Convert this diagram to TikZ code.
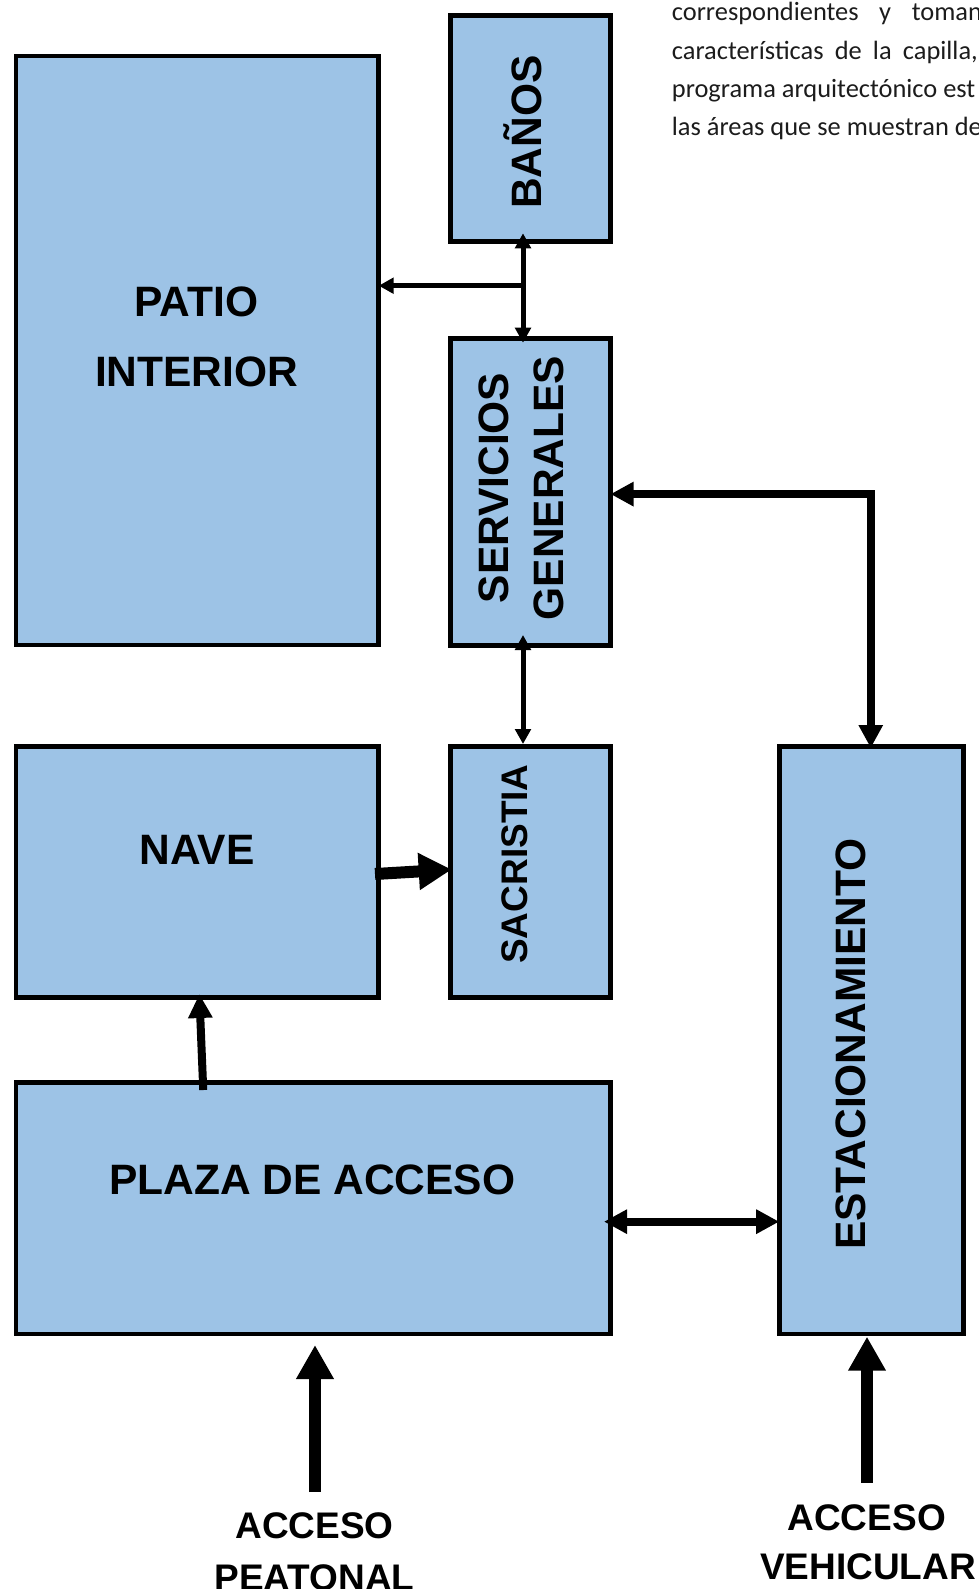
\documentclass[tikz,border=0pt]{standalone}
\usepackage{fontspec}
\setmainfont{Liberation Sans}
\newfontfamily\bodyfont{Carlito}
\usetikzlibrary{arrows.meta,fit,calc}
\definecolor{boxblue}{RGB}{157,195,230}
\definecolor{bodygray}{RGB}{28,28,28}
\begin{document}
\begin{tikzpicture}[x=0.5pt,y=-0.5pt,
  box/.style={draw=black,fill=boxblue,line width=2.4pt,inner sep=0pt,outer sep=0pt,rectangle},
  lbl/.style={font=\fontsize{21.25}{25}\selectfont\bfseries,inner sep=0pt,anchor=base},
  slbl/.style={font=\fontsize{18.5}{22}\selectfont\bfseries,inner sep=0pt,anchor=base},
  body/.style={font=\bodyfont\fontsize{13.2}{16}\selectfont,text=bodygray,inner sep=0pt,anchor=base west},
  thinarr/.style={line width=2.5pt,{Triangle[length=7.5pt,width=7.75pt]}-{Triangle[length=7.5pt,width=7.75pt]}},
  thinone/.style={line width=2.5pt,-{Triangle[length=7.5pt,width=7.75pt]}},
  medarr/.style={line width=3.9pt,{Triangle[length=11.5pt,width=11.5pt]}-{Triangle[length=11.5pt,width=11.5pt]}},
  medone/.style={line width=4pt,-{Triangle[length=12pt,width=11.5pt]}},
  bigarr/.style={line width=6pt,-{Triangle[length=16.5pt,width=17.5pt]}},
  entarr/.style={line width=6pt,-{Triangle[length=17pt,width=17.75pt]}}
]
\useasboundingbox (0,0) rectangle (979,1589);
\clip (0,0) rectangle (979,1589);

% boxes
\node[box, fit={(16,56) (378.7,645)}] (patio) {};
\node[box, fit={(450.5,15.6) (610.5,241.7)}] (banos) {};
\node[box, fit={(450.5,338.4) (610.5,645.8)}] (servicios) {};
\node[box, fit={(16,746.5) (378.7,997.5)}] (nave) {};
\node[box, fit={(450.5,746.5) (610.5,997.5)}] (sacristia) {};
\node[box, fit={(779.2,746.5) (963.3,1334)}] (estac) {};
\node[box, fit={(16,1082.5) (610.5,1334)}] (plaza) {};

% labels
\node[lbl] (tpatio) at (196.5,316) {PATIO};
\node[lbl] (tinterior) at (196.7,386) {INTERIOR};
\node[lbl,rotate=90] (tbanos) at (541,132) {BAÑOS};
\node[lbl,rotate=90] (tserv) at (508.3,488) {SERVICIOS};
\node[lbl,rotate=90] (tgen) at (563.3,488) {GENERALES};
\node[slbl,rotate=90] (tsac) at (527,864) {SACRISTIA};
\node[lbl] (tnave) at (197,864) {NAVE};
\node[lbl] (tplaza) at (312.3,1194) {PLAZA DE ACCESO};
\node[lbl,rotate=90] (testac) at (865,1044) {ESTACIONAMIENTO};
\node[slbl] (tacc1) at (314.5,1538) {ACCESO};
\node[slbl] (tpeat) at (314.5,1590) {PEATONAL};
\node[slbl] (tacc2) at (866.7,1530) {ACCESO};
\node[slbl] (tveh) at (868,1579) {VEHICULAR};

% body text (top right, cut by the right edge)
\node[body] (l1) at (671.5,21) {correspondientes\hspace{10.3pt}y\hspace{10.3pt}toman};
\node[body] (l2) at (671.5,59.3) {características\hspace{5.6pt}de\hspace{5.6pt}la\hspace{5.6pt}capilla,};
\node[body] (l3) at (671.5,97.6) {programa arquitectónico est};
\node[body] (l4) at (671.5,135.9) {las áreas que se muestran de};

% connectors
\draw[thinarr] ([xshift=-3.75pt,yshift=4.2pt]banos.south) -- ([xshift=-3.75pt,yshift=-2.15pt]servicios.north);
\coordinate (j1) at (523,285.7);
\draw[thinone] (j1) -- (j1 -| patio.east);
\draw[thinarr] ([xshift=-3.75pt,yshift=5.4pt]servicios.south) -- ([xshift=-3.75pt,yshift=1.25pt]sacristia.north);
\draw[medarr] ([yshift=-1pt]servicios.east) -| ([xshift=-0.25pt,yshift=-0.75pt]estac.north);
\draw[bigarr] ([xshift=-1.85pt,yshift=-1pt]nave.east) -- ([xshift=0.6pt,yshift=1.25pt]sacristia.west);
\draw[medone] ([xshift=-55pt,yshift=-3.75pt]plaza.north) -- ([xshift=1pt,yshift=1.75pt]nave.south);
\coordinate (p1) at ([xshift=-3.25pt,yshift=-6.7pt]plaza.east);
\draw[medarr] (p1) -- (p1 -| estac.west);
\coordinate (ap) at (315,1492);
\coordinate (apt) at (ap |- plaza.south);
\draw[entarr] (ap) -- ([yshift=-5.5pt]apt);
\coordinate (av) at (867,1482.7);
\coordinate (avt) at (av |- estac.south);
\draw[entarr] (av) -- ([yshift=-1.35pt]avt);
\end{tikzpicture}
\end{document}
